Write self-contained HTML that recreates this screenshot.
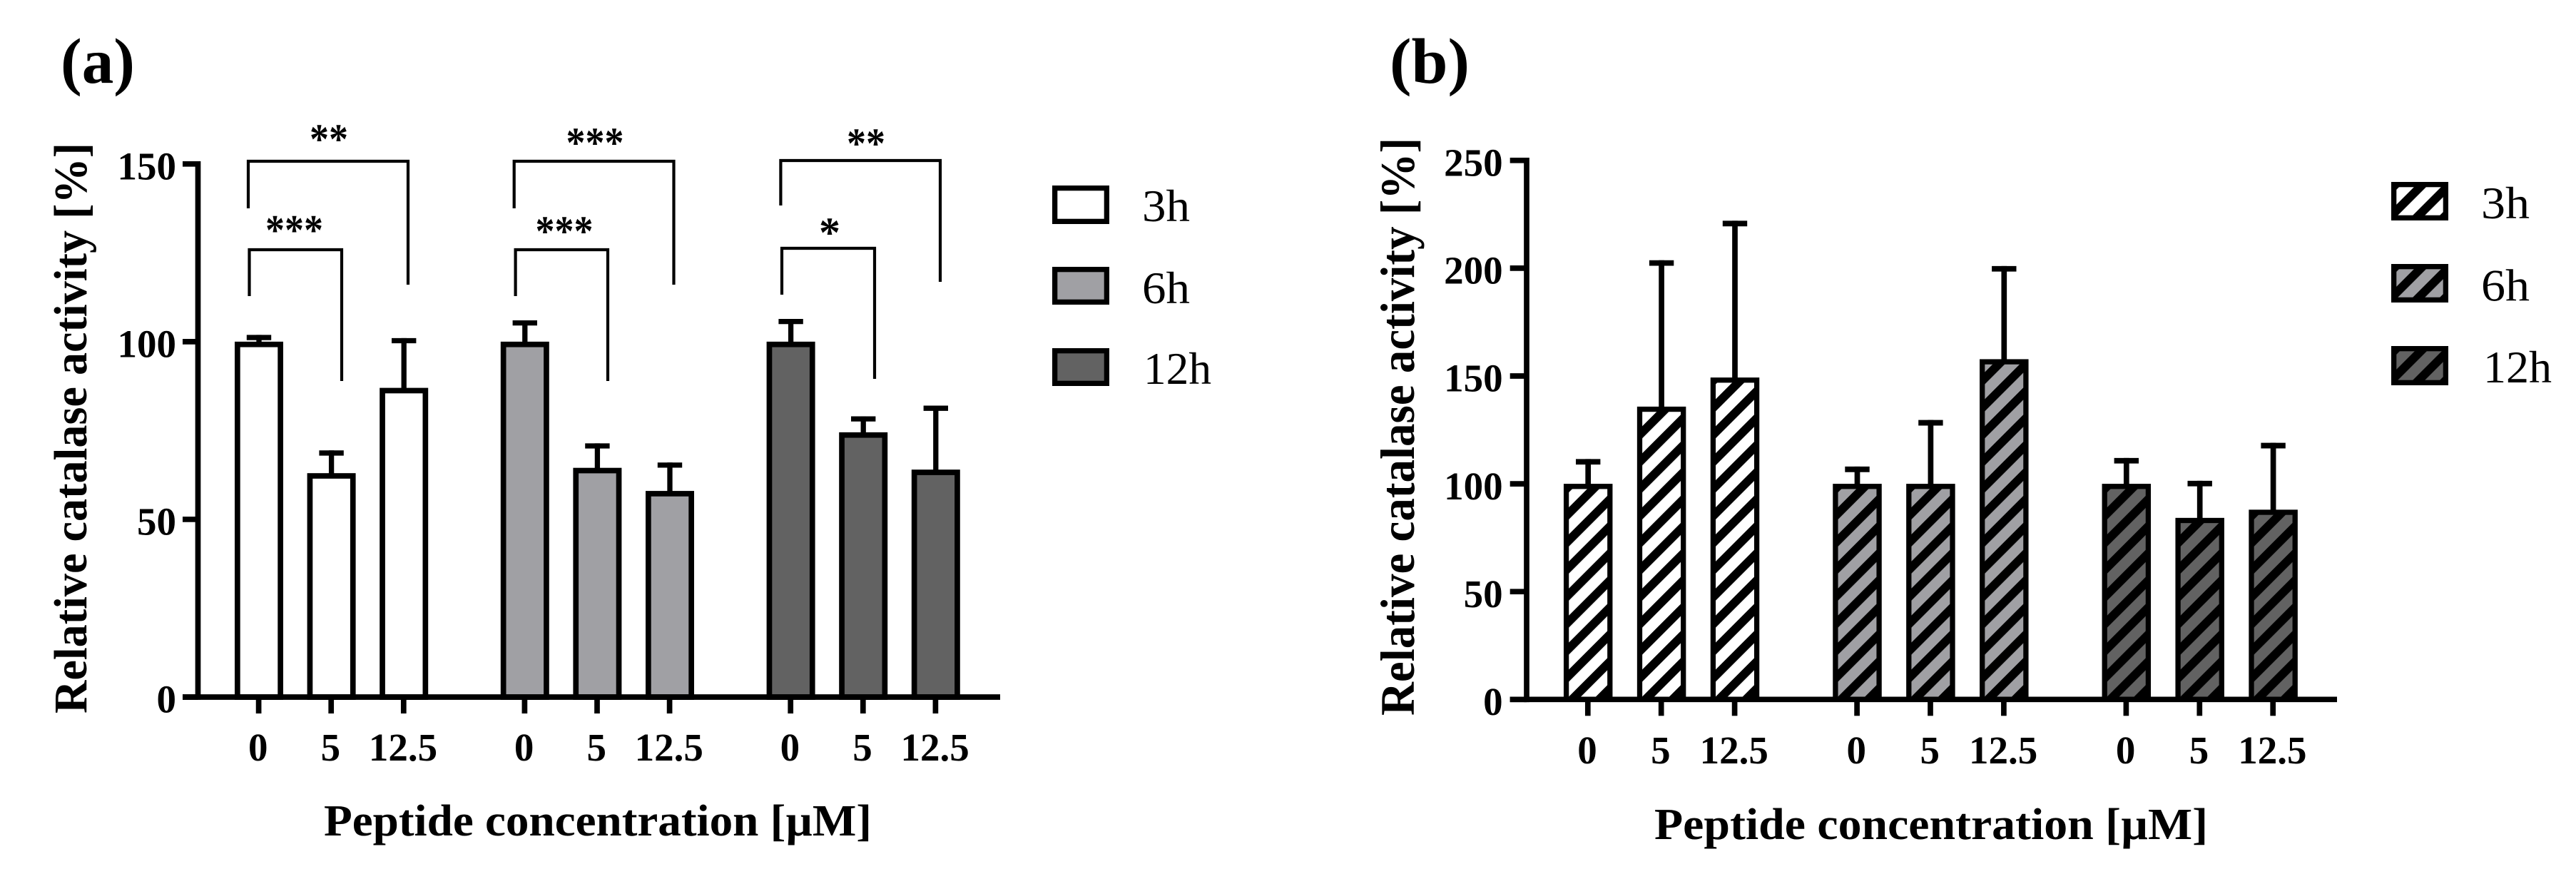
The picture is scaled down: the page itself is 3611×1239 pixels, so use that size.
<!DOCTYPE html>
<html lang="en">
<head>
<meta charset="utf-8">
<title>Relative catalase activity</title>
<style>
html,body{margin:0;padding:0;background:#fff;}
svg{display:block;}
text{font-family:"Liberation Serif",serif;fill:#000;}
.b{font-weight:bold;}
.br{fill:none;stroke:#000;stroke-width:4.2;}
</style>
</head>
<body>
<svg id="fig" xmlns="http://www.w3.org/2000/svg" width="3611" height="1239" viewBox="0 0 3611 1239">
  <rect width="3611" height="1239" fill="#fff"/>
  <defs id="defs"></defs>
  <text class="b" x="85" y="116" font-size="90" textLength="104" lengthAdjust="spacingAndGlyphs">(a)</text>
  <text class="b" x="1948" y="116" font-size="90" textLength="112" lengthAdjust="spacingAndGlyphs">(b)</text>

  <text class="b" transform="translate(121,1000) rotate(-90)" font-size="66" textLength="800" lengthAdjust="spacingAndGlyphs">Relative catalase activity [%]</text>
  <text class="b" transform="translate(1982,1003) rotate(-90)" font-size="68" textLength="810" lengthAdjust="spacingAndGlyphs">Relative catalase activity [%]</text>
  <text class="b" x="454" y="1171" font-size="62" textLength="768" lengthAdjust="spacingAndGlyphs">Peptide concentration [µM]</text>
  <text class="b" x="2319" y="1176" font-size="62" textLength="776" lengthAdjust="spacingAndGlyphs">Peptide concentration [µM]</text>

  <g id="panelA"></g>
  <g id="panelB"></g>

  <g>
    <path class="br" d="M348 292V226H572V399"/>
    <path class="br" d="M349.5 415V350H479V534"/>
    <path class="br" d="M720.7 292V226H944.5V399"/>
    <path class="br" d="M722.6 415V350H852V534"/>
    <path class="br" d="M1094.4 288V225H1318V395"/>
    <path class="br" d="M1096 413V348H1226V531"/>
    <text class="b" x="461" y="215" font-size="60" text-anchor="middle" textLength="54" lengthAdjust="spacingAndGlyphs">**</text>
    <text class="b" x="412.5" y="342.5" font-size="60" text-anchor="middle" textLength="81" lengthAdjust="spacingAndGlyphs">***</text>
    <text class="b" x="834" y="220" font-size="60" text-anchor="middle" textLength="81" lengthAdjust="spacingAndGlyphs">***</text>
    <text class="b" x="791" y="344" font-size="60" text-anchor="middle" textLength="81" lengthAdjust="spacingAndGlyphs">***</text>
    <text class="b" x="1214" y="221" font-size="60" text-anchor="middle" textLength="54" lengthAdjust="spacingAndGlyphs">**</text>
    <text class="b" x="1163" y="346" font-size="60" text-anchor="middle">*</text>
  </g>

  <g id="legendA"></g>
  <g id="legendB"></g>
</svg>

<script>
// ---- chart data ----
const doseLabels = ['0', '5', '12.5'];
const seriesNames = ['3h', '6h', '12h'];

const panelAMean3h = [100, 63, 87];
const panelAMean6h = [100, 64.5, 58];
const panelAMean12h = [100, 74.5, 64];
const panelAErrorTop3h = [101.9, 69.4, 101];
const panelAErrorTop6h = [106, 71.4, 66];
const panelAErrorTop12h = [106.4, 79, 82];
const panelATicks = [0, 50, 100, 150];

const panelBMean3h = [100, 135.8, 149.3];
const panelBMean6h = [100, 100, 157.8];
const panelBMean12h = [100, 84.2, 88];
const panelBErrorTop3h = [111.5, 203.7, 222];
const panelBErrorTop6h = [108, 129.6, 201];
const panelBErrorTop12h = [112, 101.4, 119];
const panelBTicks = [0, 50, 100, 150, 200, 250];

const seriesColors = ['#ffffff', '#a0a0a4', '#626262'];

// ---- helpers ----
const NS = 'http://www.w3.org/2000/svg';
function mk(parent, tag, attrs) {
  const el = document.createElementNS(NS, tag);
  for (const k in attrs) el.setAttribute(k, attrs[k]);
  parent.appendChild(el);
  return el;
}
let patternId = 0;
function hatchPattern(color, originX, originY, shift) {
  const id = 'hatch' + (patternId++);
  const defs = document.getElementById('defs');
  const p = mk(defs, 'pattern', {
    id: id, patternUnits: 'userSpaceOnUse', width: 26.8, height: 60,
    patternTransform: 'translate(' + (originX + shift) + ',' + originY + ') rotate(45)'
  });
  mk(p, 'rect', { width: 26.8, height: 60, fill: color });
  mk(p, 'rect', { width: 12, height: 60, fill: '#000' });
  return 'url(#' + id + ')';
}

function drawPanel(cfg) {
  const root = document.getElementById(cfg.rootId);
  const y = cfg.y;
  const x = cfg.x;

  // bars + error bars
  cfg.means.forEach(function (values, g) {
    values.forEach(function (v, i) {
      const cx = x(g, i);
      const top = cfg.errorTops[g][i];
      const half = cfg.capThick / 2;

      const stem = mk(root, 'line', { x1: cx, x2: cx, y1: y(v) + 4, y2: y(top), stroke: '#000', 'stroke-width': cfg.stemWidth });
      
      

      const cap = mk(root, 'line', { x1: cx - 17.2, x2: cx + 17.2, y1: y(top) + half, y2: y(top) + half, stroke: '#000', 'stroke-width': cfg.capThick });
      
      

      const left = cx - cfg.barW / 2 + cfg.barStroke / 2;
      const w = cfg.barW - cfg.barStroke;
      const ty = y(v) + cfg.barStroke / 2;
      let fill = seriesColors[g];
      if (cfg.hatched) {
        fill = hatchPattern(seriesColors[g], left + cfg.barStroke / 2, y(0), -4);
      }
      const bar = mk(root, 'rect', { x: left, y: ty, width: w, height: y(0) - ty, fill: fill, stroke: '#000', 'stroke-width': cfg.barStroke });
      
      
    });
  });

  // y axis
  const yLine = mk(root, 'line', { x1: cfg.axisX, x2: cfg.axisX, y1: y(cfg.ticks[cfg.ticks.length - 1]) - 3.8, y2: y(0) + 3.8, stroke: '#000', 'stroke-width': 7.7 });
  
  

  cfg.ticks.forEach(function (t) {
    const tick = mk(root, 'line', { x1: cfg.tickLeft, x2: cfg.axisX, y1: y(t), y2: y(t), stroke: '#000', 'stroke-width': 7.7 });
    
    

    const lab = mk(root, 'text', { x: cfg.labelRight, y: y(t) + cfg.labelDy, 'font-size': 55, 'text-anchor': 'end', 'class': 'b' });
    lab.textContent = String(t);
    
    
  });

  // x axis
  const xLine = mk(root, 'line', { x1: cfg.tickLeft, x2: cfg.axisEnd, y1: y(0), y2: y(0), stroke: '#000', 'stroke-width': 7.7 });
  
  

  cfg.means.forEach(function (values, g) {
    doseLabels.forEach(function (d, i) {
      const cx = x(g, i);
      const tick = mk(root, 'line', { x1: cx - 0.4, x2: cx - 0.4, y1: y(0), y2: y(0) + 23, stroke: '#000', 'stroke-width': 7.7 });
      
      

      const lab = mk(root, 'text', { x: cx - 1.2, y: cfg.xLabelY, 'font-size': 55, 'text-anchor': 'middle', 'class': 'b' });
      lab.textContent = d;
      
      
    });
  });
}

function drawLegend(cfg) {
  const root = document.getElementById(cfg.rootId);
  seriesNames.forEach(function (name, i) {
    const b = cfg.boxes[i];
    const sw = 7.3;
    let fill = seriesColors[i];
    if (cfg.hatched) {
      fill = hatchPattern(seriesColors[i], b.x + sw, b.y + b.h - sw, 23);
    }
    const box = mk(root, 'rect', { x: b.x + sw / 2, y: b.y + sw / 2, width: b.w - sw, height: b.h - sw, fill: fill, stroke: '#000', 'stroke-width': sw });
    
    

    const t = mk(root, 'text', { x: b.tx, y: b.ty, 'font-size': 64, textLength: b.tw, lengthAdjust: 'spacingAndGlyphs' });
    t.textContent = name;
    
    
  });
}

// ---- panel (a) ----
drawPanel({
  rootId: 'panelA',
  means: [panelAMean3h, panelAMean6h, panelAMean12h],
  errorTops: [panelAErrorTop3h, panelAErrorTop6h, panelAErrorTop12h],
  ticks: panelATicks,
  hatched: false,
  y: function (v) { return 977 - v * (977 - 229.8) / 150; },
  x: function (g, i) { return 363 + 372.8 * g + 101.6 * i; },
  barW: 68, barStroke: 7.7, stemWidth: 7.3, capThick: 7.3,
  axisX: 277.5, tickLeft: 256, axisEnd: 1402,
  labelRight: 247, labelDy: 21.5, xLabelY: 1066
});

// ---- panel (b) ----
drawPanel({
  rootId: 'panelB',
  means: [panelBMean3h, panelBMean6h, panelBMean12h],
  errorTops: [panelBErrorTop3h, panelBErrorTop6h, panelBErrorTop12h],
  ticks: panelBTicks,
  hatched: true,
  y: function (v) { return 980.3 - v * (980.3 - 224.8) / 250; },
  x: function (g, i) { return 2226.2 + 377.3 * g + 102.9 * i; },
  barW: 68.5, barStroke: 7.3, stemWidth: 7.7, capThick: 7.8,
  axisX: 2140, tickLeft: 2116.7, axisEnd: 3276,
  labelRight: 2106.6, labelDy: 21.7, xLabelY: 1070
});

// ---- legends ----
drawLegend({
  rootId: 'legendA', hatched: false,
  boxes: [
    { x: 1475, y: 260, w: 80, h: 54, tx: 1601, ty: 310, tw: 67 },
    { x: 1475, y: 374, w: 80, h: 53, tx: 1601, ty: 425, tw: 67 },
    { x: 1475, y: 488, w: 80, h: 53, tx: 1603, ty: 538, tw: 95 }
  ]
});
drawLegend({
  rootId: 'legendB', hatched: true,
  boxes: [
    { x: 3352, y: 255, w: 80, h: 54, tx: 3478, ty: 306, tw: 68 },
    { x: 3352, y: 370, w: 80, h: 54, tx: 3478, ty: 421.5, tw: 68 },
    { x: 3352, y: 485, w: 80, h: 55, tx: 3481, ty: 536, tw: 96 }
  ]
});
</script>
</body>
</html>
